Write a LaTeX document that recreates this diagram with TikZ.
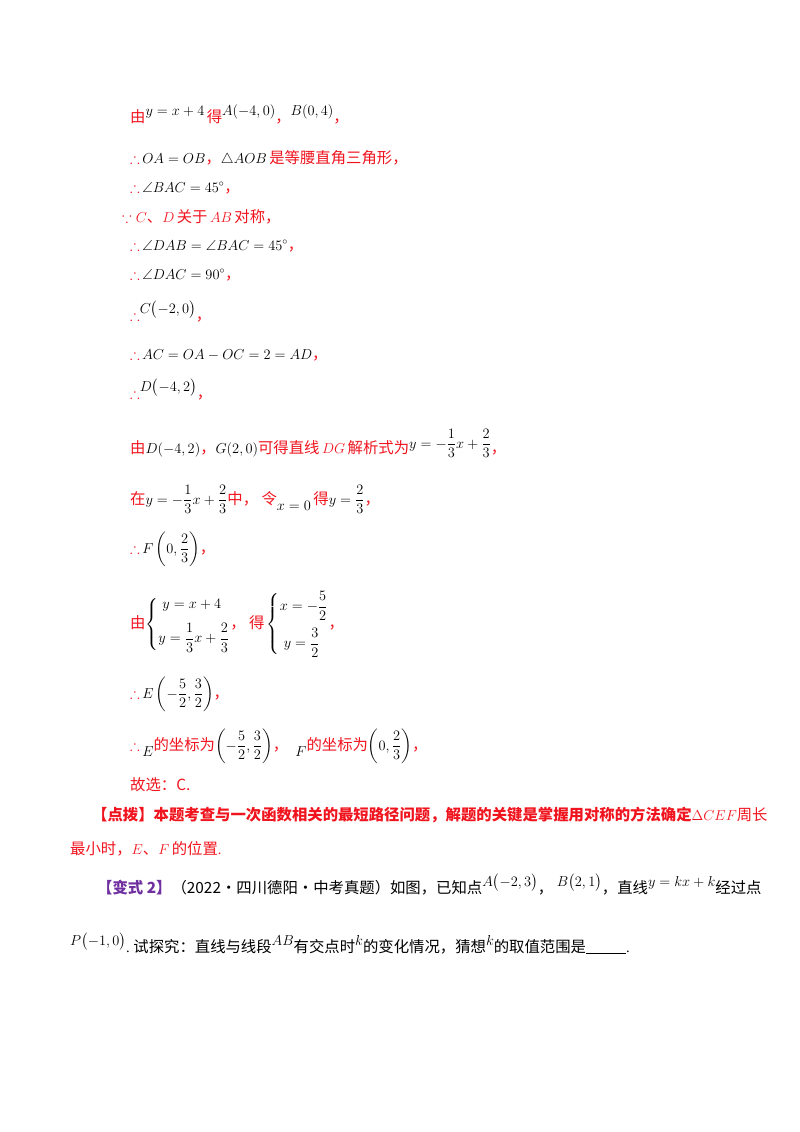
\documentclass[tikz,border=0pt]{standalone}
\usepackage{fontspec}
\usepackage{amsmath,amssymb}
\setmainfont{Liberation Serif}
\newfontfamily\cjk[Scale=1.06]{Noto Sans CJK SC}
\definecolor{rd}{RGB}{240,20,30}
\definecolor{pp}{RGB}{112,48,160}
\newcommand{\upb}[1]{\raisebox{7pt}{\color{black}#1}}
\newcommand{\dnb}[1]{\raisebox{-6pt}{#1}}
\newcommand{\bk}[1]{{\color{black}#1}}
\tikzset{ln/.style={anchor=base west, inner sep=0pt, font=\fontsize{14.5}{17}\selectfont, text=rd}}
\begin{document}
\begin{tikzpicture}[x=1pt,y=-1pt]
\useasboundingbox (0,0) rectangle (800,1132);
\node[ln] (l1) at (130,122) {{\cjk 由}\upb{$y=x+4$}\,{\cjk 得}\upb{$A(-4,0)$}{\cjk ，}\upb{$B(0,4)$}{\cjk ，}};
\node[ln] (l2) at (130,163) {$\therefore$\,\bk{$OA=OB$}{\cjk ，}\bk{$\triangle AOB$}\,{\cjk 是等腰直角三角形，}};
\node[ln] (l3) at (130,192) {$\therefore$\,\bk{$\angle BAC=45^\circ$}{\cjk ，}};
\node[ln] (l4) at (122,222) {$\because C${\cjk 、}$D$\,{\cjk 关于}\,$AB$\,{\cjk 对称，}};
\node[ln] (l5) at (130,250) {$\therefore$\,\bk{$\angle DAB=\angle BAC=45^\circ$}{\cjk ，}};
\node[ln] (l6) at (130,279) {$\therefore$\,\bk{$\angle DAC=90^\circ$}{\cjk ，}};
\node[ln] (l7) at (130,320) {$\therefore$\upb{$C\bigl(-2,0\bigr)$}{\cjk ，}};
\node[ln] (l8) at (130,359) {$\therefore$\,\bk{$AC=OA-OC=2=AD$}{\cjk ，}};
\node[ln] (l9) at (130,398) {$\therefore$\upb{$D\bigl(-4,2\bigr)$}{\cjk ，}};
\node[ln] (l10) at (130,453) {{\cjk 由}\bk{$D(-4,2)$}{\cjk ，}\bk{$G(2,0)$}{\cjk 可得直线}\,$DG$\,{\cjk 解析式为}\raisebox{5pt}{\bk{$y=-\dfrac{1}{3}x+\dfrac{2}{3}$}}{\cjk ，}};
\node[ln] (l11) at (130,504) {{\cjk 在}\bk{$y=-\dfrac{1}{3}x+\dfrac{2}{3}$}{\cjk 中，\ 令}\dnb{\bk{$x=0$}}\,{\cjk 得}\bk{$y=\dfrac{2}{3}$}{\cjk ，}};
\node[ln] (l12) at (130,553) {$\therefore$\,\bk{$F\left(0,\dfrac{2}{3}\right)$}{\cjk ，}};
\node[ln] (l13) at (130,628) {{\cjk 由}\bk{$\left\{\begin{aligned}&\;y=x+4\\[6pt]&y=\dfrac{1}{3}x+\dfrac{2}{3}\end{aligned}\right.$}{\cjk ，\ 得}\,\bk{$\left\{\begin{aligned}&x=-\dfrac{5}{2}\\[4pt]&\;y=\dfrac{3}{2}\end{aligned}\right.$}{\cjk ，}};
\node[ln] (l14) at (130,698) {$\therefore$\,\bk{$E\left(-\dfrac{5}{2},\dfrac{3}{2}\right)$}{\cjk ，}};
\node[ln] (l15) at (130,750) {$\therefore$\,\dnb{\bk{$E$}}{\cjk 的坐标为}\bk{$\left(-\dfrac{5}{2},\dfrac{3}{2}\right)$}{\cjk ，}\ \ \dnb{\bk{$F$}}{\cjk 的坐标为}\bk{$\left(0,\dfrac{2}{3}\right)$}{\cjk ，}};
\node[ln] (l16) at (130,790) {{\cjk 故选：C.}};
\node[ln] (l17) at (92,820) {{\cjk\bfseries 【点拨】本题考查与一次函数相关的最短路径问题，解题的关键是掌握用对称的方法确定}$\Delta CEF${\cjk 周长}};
\node[ln] (l18) at (70,854) {{\cjk 最小时，}$E${\cjk 、}$F$\,{\cjk 的位置}.};
\node[ln,text=black] (l19) at (97,893) {{\cjk\bfseries\color{pp}【变式 2】}{\cjk （2022·四川德阳·中考真题）如图，已知点}\upb{$A\bigl(-2,3\bigr)$}{\cjk ，}\ \upb{$B\bigl(2,1\bigr)$}{\cjk ，直线}\upb{$y=kx+k$}{\cjk 经过点}};
\node[ln,text=black] (l20) at (70,952) {\upb{$P\bigl(-1,0\bigr)$}.\ {\cjk 试探究：直线与线段}\upb{$AB$}{\cjk 有交点时}\upb{$k$}{\cjk 的变化情况，猜想}\upb{$k$}{\cjk 的取值范围是}\rule[-2pt]{40pt}{0.8pt}.};
\end{tikzpicture}
\end{document}
